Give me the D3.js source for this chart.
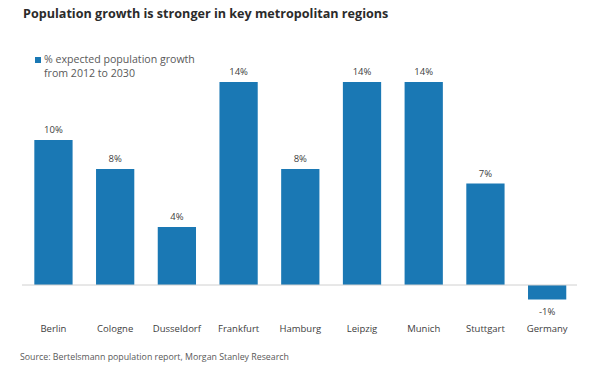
<!DOCTYPE html>
<html>
<head>
<meta charset="utf-8">
<script src="https://cdn.jsdelivr.net/npm/d3@7"></script>
<style>
  html, body { margin: 0; padding: 0; background: #fff; }
  svg { display: block; font-family: "Open Sans", "Liberation Sans", sans-serif; }
</style>
</head>
<body>
<svg id="chart" width="598" height="366"></svg>
<script>
// Expected population growth by region, 2012 to 2030 (%)
const cities = ["Berlin", "Cologne", "Dusseldorf", "Frankfurt", "Hamburg", "Leipzig", "Munich", "Stuttgart", "Germany"];
const growth = [10, 8, 4, 14, 8, 14, 14, 7, -1];
const valueLabels = ["10%", "8%", "4%", "14%", "8%", "14%", "14%", "7%", "-1%"];
const legendLines = ["% expected population growth", "from 2012 to 2030"];
const titleText = "Population growth is stronger in key metropolitan regions";
const sourceText = "Source: Bertelsmann population report, Morgan Stanley Research";

const barColor = "#1a78b4";
const textColor = "#404040";

const svg = d3.select("#chart");

const x = d3.scaleBand()
  .domain(cities)
  .range([22.6, 578])
  .paddingInner(0.38)
  .paddingOuter(0.19);

const y = d3.scaleLinear()
  .domain([-1, 14])
  .range([299.5, 82]);

// Title
svg.append("text")
  .attr("x", 23)
  .attr("y", 18)
  .attr("font-size", 12.6)
  .attr("font-weight", "bold")
  .attr("fill", "#2b2b2b")
  .text(titleText);

// Bars
svg.append("g")
  .selectAll("rect")
  .data(growth)
  .join("rect")
  .attr("x", (d, i) => x(cities[i]))
  .attr("width", x.bandwidth())
  .attr("y", d => y(Math.max(0, d)))
  .attr("height", d => Math.abs(y(d) - y(0)))
  .attr("fill", barColor);

// Zero line
svg.append("line")
  .attr("x1", 22)
  .attr("x2", 577)
  .attr("y1", y(0))
  .attr("y2", y(0))
  .attr("stroke", "#d0d0d0")
  .attr("stroke-width", 1);

// Value labels
svg.append("g")
  .selectAll("text")
  .data(growth)
  .join("text")
  .attr("x", (d, i) => x(cities[i]) + x.bandwidth() / 2)
  .attr("y", d => d >= 0 ? y(d) - 7 : y(d) + 15)
  .attr("text-anchor", "middle")
  .attr("font-size", 9.5)
  .attr("fill", textColor)
  .text((d, i) => valueLabels[i]);

// Category axis labels
const xAxis = d3.axisBottom(x).tickSize(0).tickPadding(0);
const gx = svg.append("g")
  .attr("transform", "translate(0,325)")
  .call(xAxis);
gx.select(".domain").remove();
gx.selectAll("text")
  .attr("font-size", 9.5)
  .attr("font-family", "\"Open Sans\", \"Liberation Sans\", sans-serif")
  .attr("fill", textColor);

// Legend
const legend = svg.append("g");
legend.append("rect")
  .attr("x", 35)
  .attr("y", 57)
  .attr("width", 6)
  .attr("height", 6)
  .attr("fill", barColor);
legend.selectAll("text")
  .data(legendLines)
  .join("text")
  .attr("x", 44)
  .attr("y", (d, i) => 63 + i * 14)
  .attr("font-size", 10.6)
  .attr("fill", "#595959")
  .text(d => d);

// Source note
svg.append("text")
  .attr("x", 20)
  .attr("y", 360)
  .attr("font-size", 8.8)
  .attr("fill", "#595959")
  .text(sourceText);
</script>
</body>
</html>
